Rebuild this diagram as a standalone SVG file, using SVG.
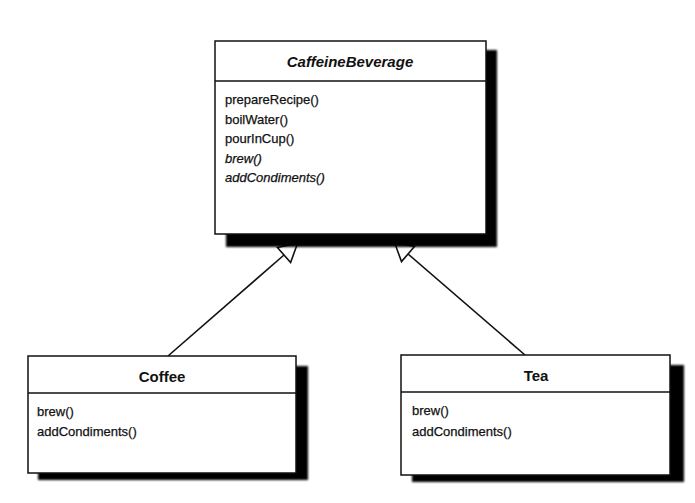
<svg xmlns="http://www.w3.org/2000/svg" width="695" height="503" viewBox="0 0 695 503">
  <defs>
    <filter id="soft" x="-5%" y="-5%" width="110%" height="110%">
      <feGaussianBlur stdDeviation="1.2"/>
    </filter>
  </defs>
  <style>
    .shadow { fill: #000; filter: url(#soft); }
    .box { fill: #fff; stroke: #111; stroke-width: 1.5; }
    .div { stroke: #111; stroke-width: 1.5; }
    .title { font-family: "Liberation Sans", Arial, sans-serif; font-size: 15px; font-weight: bold; fill: #111; text-anchor: middle; }
    .ital { font-style: italic; }
    .op { font-family: "Liberation Sans", Arial, sans-serif; font-size: 13px; fill: #111; stroke: #111; stroke-width: 0.25; }
    .conn { stroke: #111; stroke-width: 1.6; fill: none; }
    .head { stroke: #111; stroke-width: 1.6; fill: #fff; stroke-linejoin: miter; }
  </style>
  <rect width="695" height="503" fill="#fff"/>

  <g id="connectors">
    <line class="conn" x1="168" y1="356" x2="284" y2="255"/>
    <polygon class="head" points="277.4,247.5 290.6,262.5 297.6,243.2"/>
    <line class="conn" x1="525" y1="355" x2="408" y2="254"/>
    <polygon class="head" points="414.5,246.4 401.5,261.6 394.4,242.2"/>
  </g>

  <g id="CaffeineBeverage">
    <rect class="shadow" x="226" y="50" width="271" height="197"/>
    <rect class="box" x="215" y="41" width="271" height="193"/>
    <line class="div" x1="215" y1="81" x2="486" y2="81"/>
    <text class="title ital" x="350" y="67">CaffeineBeverage</text>
    <text class="op" x="225" y="104">prepareRecipe()</text>
    <text class="op" x="225" y="123.5">boilWater()</text>
    <text class="op" x="225" y="143">pourInCup()</text>
    <text class="op ital" x="225" y="162.5">brew()</text>
    <text class="op ital" x="225" y="182">addCondiments()</text>
  </g>

  <g id="Coffee">
    <rect class="shadow" x="38" y="366" width="270" height="114"/>
    <rect class="box" x="28" y="356" width="268" height="117"/>
    <line class="div" x1="28" y1="393" x2="296" y2="393"/>
    <text class="title" x="162" y="382">Coffee</text>
    <text class="op" x="37" y="416">brew()</text>
    <text class="op" x="37" y="436">addCondiments()</text>
  </g>

  <g id="Tea">
    <rect class="shadow" x="412" y="365" width="272" height="117"/>
    <rect class="box" x="401" y="355" width="269" height="120"/>
    <line class="div" x1="401" y1="392" x2="670" y2="392"/>
    <text class="title" x="536" y="381">Tea</text>
    <text class="op" x="412" y="415">brew()</text>
    <text class="op" x="412" y="436">addCondiments()</text>
  </g>
</svg>
